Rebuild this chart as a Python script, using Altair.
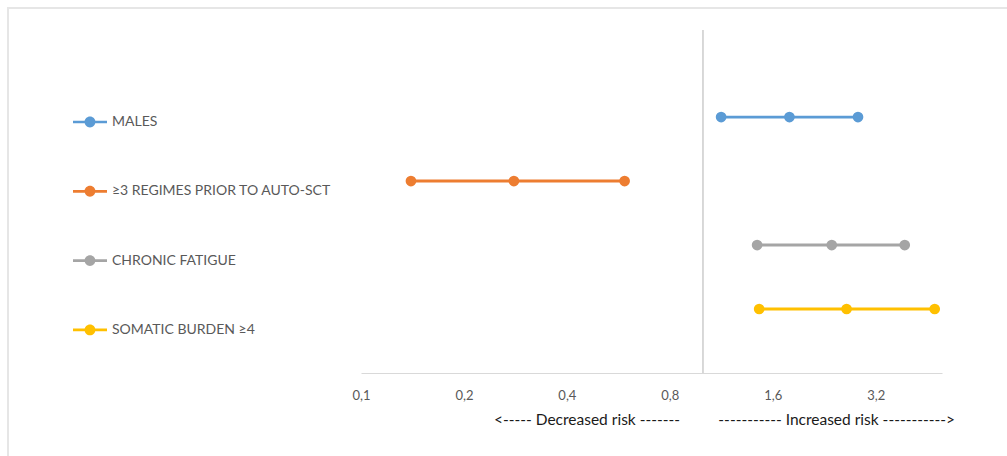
import altair as alt
import pandas as pd

# Odds ratios with 95% confidence limits, one row per risk factor
factors = ["MALES", "≥3 REGIMES PRIOR TO AUTO-SCT", "CHRONIC FATIGUE", "SOMATIC BURDEN ≥4"]
rows = [4, 3, 2, 1]
lower = [1.13, 0.14, 1.44, 1.46]
estimate = [1.79, 0.28, 2.38, 2.63]
upper = [2.84, 0.59, 3.89, 4.76]
colors = ["#5b9bd5", "#ed7d31", "#a5a5a5", "#ffc000"]

tick_values = [0.1, 0.2, 0.4, 0.8, 1.6, 3.2]
x_domain = [0.1, 5.0]
y_domain = [0, 5.36]
reference_value = 1.0

notes = ["<----- Decreased risk -------", "----------- Increased risk ----------->"]
note_x = [0.458, 2.46]

W, H = 581, 343
PAD_L, PAD_T = 361, 30
TOTAL_W, TOTAL_H = 1007, 456

intervals = pd.DataFrame({"factor": factors, "row": rows, "lower": lower, "upper": upper})
points = pd.DataFrame(
    [
        {"factor": f, "row": r, "or": v}
        for f, r, lo, est, up in zip(factors, rows, lower, estimate, upper)
        for v in (lo, est, up)
    ]
)

x_scale = alt.Scale(type="log", base=2, domain=x_domain, nice=False)
y_scale = alt.Scale(domain=y_domain, nice=False, zero=False)
color_scale = alt.Scale(domain=factors, range=colors)

x_axis = alt.Axis(
    values=tick_values,
    labelExpr="replace(format(datum.value, '.1f'), '.', ',')",
    title=None,
    ticks=False,
    grid=False,
    domainColor="#d9d9d9",
    domainWidth=1.2,
    labelFont="Lato",
    labelFontSize=13,
    labelColor="#595959",
    labelPadding=16,
    labelFlush=False,
)

# legend symbol: a short line with a dot in the middle (dot drawn with cubic curves)
k = 0.32
c = k * 0.5523
line_dot = (
    "M-1,-0.08L1,-0.08L1,0.08L-1,0.08Z"
    f"M{k},0C{k},{c},{c},{k},0,{k}C{-c},{k},{-k},{c},{-k},0"
    f"C{-k},{-c},{-c},{-k},0,{-k}C{c},{-k},{k},{-c},{k},0Z"
)

legend = alt.Legend(
    title=None,
    orient="none",
    legendX=-288,
    legendY=75,
    padding=0,
    symbolType=line_dot,
    symbolSize=1156,
    symbolStrokeWidth=0,
    symbolOpacity=1,
    labelFont="Lato",
    labelFontSize=14,
    labelColor="#595959",
    labelOffset=5,
    labelLimit=400,
    rowPadding=45.3,
)

# outer frame: top and left edges, running to the canvas edges
frame_left = (
    alt.Chart(pd.DataFrame({"k": [0]}))
    .mark_rule(color="#e6e6e6", strokeWidth=2)
    .encode(x=alt.value(8 - PAD_L), y=alt.value(7 - PAD_T), y2=alt.value(TOTAL_H - PAD_T))
)
frame_top = (
    alt.Chart(pd.DataFrame({"k": [1]}))
    .mark_rule(color="#e6e6e6", strokeWidth=2)
    .encode(y=alt.value(8 - PAD_T), x=alt.value(7 - PAD_L), x2=alt.value(TOTAL_W - PAD_L))
)

ref_line = (
    alt.Chart(pd.DataFrame({"ref": [reference_value], "y0": [y_domain[0]], "y1": [y_domain[1]]}))
    .mark_rule(color="#bfbfbf", strokeWidth=1.2)
    .encode(
        x=alt.X("ref:Q", scale=x_scale, axis=x_axis),
        y=alt.Y("y0:Q", scale=y_scale, axis=None),
        y2="y1:Q",
    )
)

ci_lines = (
    alt.Chart(intervals)
    .mark_rule(strokeWidth=2.8)
    .encode(
        x=alt.X("lower:Q", scale=x_scale, axis=x_axis),
        x2="upper:Q",
        y=alt.Y("row:Q", scale=y_scale, axis=None),
        color=alt.Color("factor:N", scale=color_scale, legend=legend),
    )
)

dots = (
    alt.Chart(points)
    .mark_circle(size=115, opacity=1)
    .encode(
        x=alt.X("or:Q", scale=x_scale, axis=x_axis),
        y=alt.Y("row:Q", scale=y_scale, axis=None),
        color=alt.Color("factor:N", scale=color_scale, legend=legend),
    )
)

note_text = (
    alt.Chart(pd.DataFrame({"note": notes, "pos": note_x}))
    .mark_text(font="Lato", fontSize=15.5, color="#1a1a1a", baseline="middle", align="center")
    .encode(
        x=alt.X("pos:Q", scale=x_scale, axis=x_axis),
        y=alt.value(390),
        text="note:N",
    )
)

chart = (
    alt.layer(frame_left, frame_top, ref_line, ci_lines, dots, note_text)
    .properties(
        width=W,
        height=H,
        autosize=alt.AutoSizeParams(type="none"),
        padding={"left": PAD_L, "top": PAD_T, "right": TOTAL_W - PAD_L - W, "bottom": TOTAL_H - PAD_T - H},
        background="white",
    )
    .configure_view(stroke=None)
)

chart.save("out.html", embed_options={"renderer": "svg", "actions": False})
